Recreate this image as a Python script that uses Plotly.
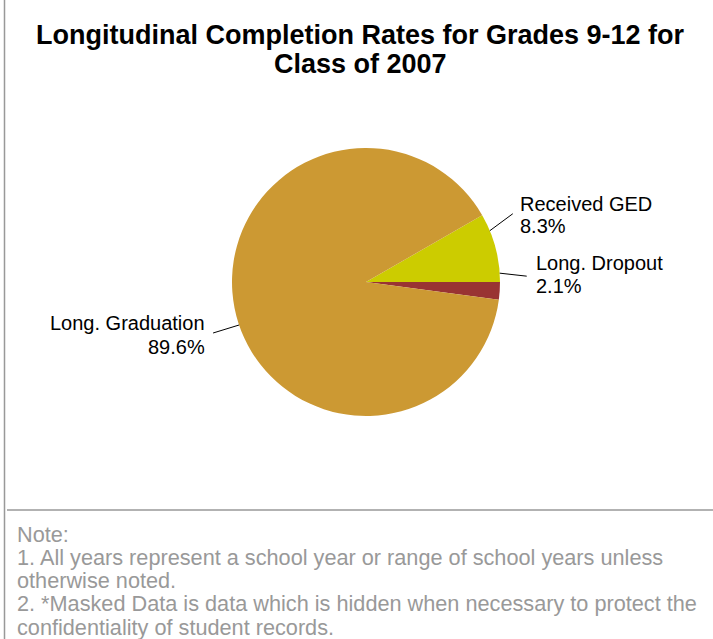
import math
import plotly.graph_objects as go

labels = ["Long. Dropout", "Received GED", "Long. Graduation"]
values = [2.1, 8.3, 89.6]
colors = ["#993333", "#CCCC00", "#CC9933"]

title_lines = ["Longitudinal Completion Rates for Grades 9-12 for", "Class of 2007"]
note_lines = [
    "Note:",
    "1. All years represent a school year or range of school years unless",
    "otherwise noted.",
    "2. *Masked Data is data which is hidden when necessary to protect the",
    "confidentiality of student records.",
]

W, H = 713, 639
cx, cy, r = 366, 282, 134  # pie centre / radius in pixels
FONT = "Liberation Sans, Arial"


def px(x, y):
    # pixel position -> paper coords
    return x / W, 1 - y / H


fig = go.Figure()
fig.add_trace(go.Pie(
    labels=labels,
    values=values,
    sort=False,
    direction="counterclockwise",
    rotation=90,
    marker=dict(colors=colors, line=dict(width=0)),
    textinfo="none",
    hoverinfo="label+percent",
    showlegend=False,
    domain=dict(x=[(cx - r) / W, (cx + r) / W],
                y=[(H - cy - r) / H, (H - cy + r) / H]),
))

# label layout relative to the slice edge: leader end (dx, dy), text x, text line y's
lab_layout = {
    "Long. Dropout": dict(end=(27, 3), tx=35, ty=(-10, 12.5), anchor="left"),
    "Received GED": dict(end=(23, -17), tx=29, ty=(-27, -4.5), anchor="left"),
    "Long. Graduation": dict(end=(-26, 8), tx=-33, ty=(-2, 22), anchor="right"),
}

total = sum(values)
cum = 0
for lab, v in zip(labels, values):
    mid = (cum + v / 2) / total * 2 * math.pi
    cum += v
    ex = cx + r * math.cos(mid)
    ey = cy - r * math.sin(mid)
    L = lab_layout[lab]
    x0, y0 = px(ex, ey)
    x1, y1 = px(ex + L["end"][0], ey + L["end"][1])
    fig.add_shape(type="line", xref="paper", yref="paper",
                  x0=x0, y0=y0, x1=x1, y1=y1,
                  line=dict(color="#000000", width=1))
    for txt, dy in zip([lab, f"{v}%"], L["ty"]):
        tx, ty = px(ex + L["tx"], ey + dy)
        fig.add_annotation(
            x=tx, y=ty, xref="paper", yref="paper",
            xanchor=L["anchor"], yanchor="middle", showarrow=False,
            text=txt, borderpad=0,
            font=dict(family=FONT, size=20, color="#000000"),
        )

# title, one annotation per line for tight line spacing
for i, t in enumerate(title_lines):
    tx, ty = px(360, 35 + 29 * i)
    fig.add_annotation(
        x=tx, y=ty, xref="paper", yref="paper",
        xanchor="center", yanchor="middle", showarrow=False,
        text=f"<b>{t}</b>",
        font=dict(family=FONT, size=27, color="#000000"),
    )

for i, t in enumerate(note_lines):
    tx, ty = px(16, 534 + 23.3 * i)
    fig.add_annotation(
        x=tx, y=ty, xref="paper", yref="paper",
        xanchor="left", yanchor="middle", showarrow=False,
        text=t, borderpad=0,
        font=dict(family=FONT, size=21.7, color="#999999"),
    )

fig.add_shape(type="line", xref="paper", yref="paper",
              x0=4.5 / W, x1=4.5 / W, y0=0, y1=1,
              line=dict(color="#999999", width=1.5))
fig.add_shape(type="line", xref="paper", yref="paper",
              x0=7 / W, x1=1, y0=1 - 510 / H, y1=1 - 510 / H,
              line=dict(color="#999999", width=1.5))

fig.update_layout(
    width=W, height=H,
    margin=dict(l=0, r=0, t=0, b=0),
    paper_bgcolor="white",
    plot_bgcolor="white",
)

fig.write_html("out.html", config={"displayModeBar": False},
               post_script="document.body.style.margin='0px';")
